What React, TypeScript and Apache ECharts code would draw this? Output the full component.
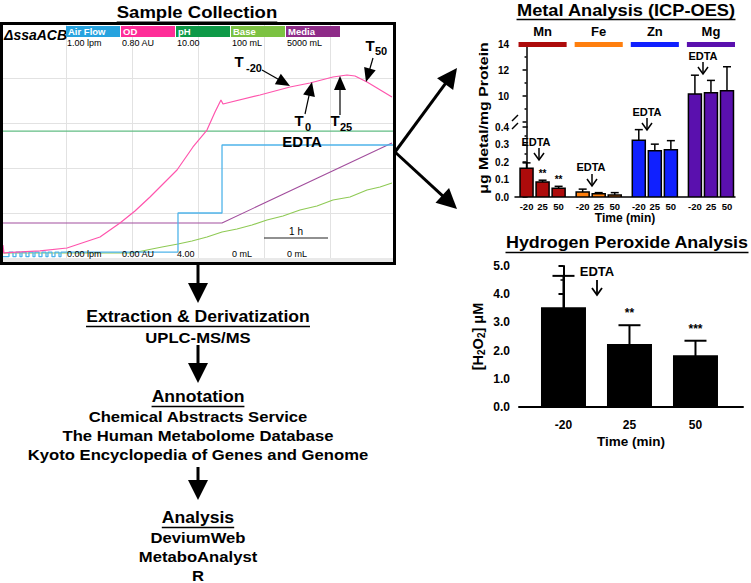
import React, { useEffect, useRef } from 'react';
import * as echarts from 'echarts';

const FONT = '"Liberation Sans", Arial, Helvetica, sans-serif';

// ---------- Sample collection traces: [time (h), grid divisions] ----------
const odTrace = [
  [-0.955, 0.11], [-0.955, 0.29], [-0.94, 0.11], [-0.894, 0.12], [-0.394, 0.16], [0.015, 0.222],
  [0.515, 0.467], [0.818, 0.778], [1.045, 1.044], [1.273, 1.356], [1.5, 1.689], [1.682, 1.956],
  [1.924, 2.467], [2.136, 2.844], [2.258, 3.244], [2.348, 3.511], [2.379, 3.422], [2.939, 3.622],
  [3.394, 3.8], [3.697, 3.889], [4.045, 4.022], [4.258, 4.067], [4.379, 4.044], [4.561, 3.911], [4.939, 3.578],
];
const phTrace = [[-1, 2.82], [4.97, 2.82]];
const airFlowTrace = [
  [-0.955, 0.03], [-0.864, 0.13], [-0.803, 0.03], [-0.758, 0.13], [-0.697, 0.03], [-0.667, 0.13],
  [-0.606, 0.03], [-0.561, 0.13], [-0.5, 0.03], [-0.47, 0.13], [-0.409, 0.03], [-0.364, 0.13],
  [-0.303, 0.03], [-0.273, 0.13], [-0.212, 0.03], [-0.167, 0.13], [-0.106, 0.03], [-0.076, 0.13],
  [1.697, 1.0], [2.364, 2.511], [4.97, 2.511],
];
const mediaTrace = [[-1, 0.778], [2.364, 0.778], [4.939, 2.556]];
const baseTrace = [
  [-1, 0.111], [1.015, 0.111], [1.227, 0.178], [1.455, 0.244], [1.697, 0.311], [1.909, 0.378],
  [2.136, 0.467], [2.364, 0.578], [2.591, 0.644], [2.818, 0.733], [3.045, 0.844], [3.288, 0.933],
  [3.545, 1.067], [3.803, 1.156], [4.045, 1.289], [4.303, 1.356], [4.561, 1.511], [4.758, 1.578], [4.939, 1.667],
];

const channelNames = ['Air Flow', 'OD', 'pH', 'Base', 'Media'];
const channelColors = ['#27a3df', '#ff2d98', '#0e9a48', '#7cc242', '#8e2b88'];
const traceColors = ['#4fb4ea', '#ff55ad', '#62bd84', '#8fca55', '#a24e9d'];
const channelMax = ['1.00 lpm', '0.80 AU', '10.00', '100 mL', '5000 mL'];
const channelMin = ['0.00 lpm', '0.00 AU', '4.00', '0 mL', '0 mL'];

// ---------- Metal analysis (ICP-OES) ----------
const metalNames = ['Mn', 'Fe', 'Zn', 'Mg'];
const metalColors = ['#ad0b0b', '#ff7f0e', '#1020ff', '#5a10ae'];
const timeLabels = ['-20', '25', '50'];
const mnMean = [0.165, 0.086, 0.05];
const mnErr = [0.03, 0.01, 0.011];
const feMean = [0.028, 0.018, 0.012];
const feErr = [0.017, 0.007, 0.013];
const znMean = [0.325, 0.265, 0.27];
const znErr = [0.06, 0.037, 0.052];
const mgMean = [10.15, 10.25, 10.4];
const mgErr = [1.45, 0.95, 1.85];
const mnSig = ['', '**', '**'];
const feSig = ['', '', ''];
const znSig = ['', '', ''];
const mgSig = ['', '', ''];

// ---------- Hydrogen peroxide ----------
const h2o2Mean = [3.5, 2.2, 1.8];
const h2o2Err = [1.15, 0.7, 0.55];
const h2o2Sig = ['', '**', '***'];

const upperMin = 7.615;

export default function App() {
  const ref = useRef<HTMLDivElement>(null);

  useEffect(() => {
    document.body.style.margin = '0';
    const chart = echarts.init(ref.current!, null, { renderer: 'svg' });

    const ctx = document.createElement('canvas').getContext('2d')!;
    const measure = (text: string, size: number) => {
      ctx.font = `bold ${size}px ${FONT}`;
      return ctx.measureText(text).width;
    };

    const groupStart = [0, 3.5, 7, 10.5];
    const means = [mnMean, feMean, znMean, mgMean];
    const errs = [mnErr, feErr, znErr, mgErr];
    const sigs = [mnSig, feSig, znSig, mgSig];
    const metalRows: any[] = [];
    means.forEach((arr, g) =>
      arr.forEach((m, i) =>
        metalRows.push({ x: groupStart[g] + i, mean: m, err: errs[g][i], sig: sigs[g][i], color: metalColors[g], label: timeLabels[i] })
      )
    );
    const upperRows = metalRows.filter((r) => r.mean + r.err > upperMin);
    const h2o2Rows = h2o2Mean.map((m, i) => ({ x: i, mean: m, err: h2o2Err[i], sig: h2o2Sig[i], color: '#000', label: timeLabels[i] }));

    const barRender = (rows: any[], barW: number, capHalf: number, lw: number, starSize: number, starGap: number) =>
      (params: any, api: any) => {
        const r = rows[params.dataIndex];
        const base = api.coord([r.x, 0]);
        const top = api.coord([r.x, r.mean]);
        const et = api.coord([r.x, r.mean + r.err]);
        const children: any[] = [
          { type: 'rect', shape: { x: top[0] - barW / 2, y: top[1], width: barW, height: base[1] - top[1] }, style: { fill: r.color, stroke: '#000', lineWidth: lw } },
          { type: 'line', shape: { x1: top[0], y1: top[1], x2: top[0], y2: et[1] }, style: { stroke: '#000', lineWidth: lw } },
          { type: 'line', shape: { x1: top[0] - capHalf, y1: et[1], x2: top[0] + capHalf, y2: et[1] }, style: { stroke: '#000', lineWidth: lw } },
        ];
        if (r.sig) {
          children.push({
            type: 'text', x: top[0], y: et[1] - starGap,
            style: { text: r.sig, fontFamily: FONT, fontWeight: 'bold', fontSize: starSize, fill: '#000', textAlign: 'center', textVerticalAlign: 'middle', align: 'center', verticalAlign: 'middle' },
          });
        }
        return { type: 'group', children };
      };

    const metalLabelAt = (v: number) => {
      const r = metalRows.find((row) => Math.abs(row.x - v) < 0.01);
      return r ? r.label : '';
    };
    const h2o2LabelAt = (v: number) => {
      const r = h2o2Rows.find((row) => Math.abs(row.x - v) < 0.01);
      return r ? r.label : '';
    };

    const blk = { color: '#000', width: 1.5 };
    const axisFont = { fontFamily: FONT, fontWeight: 'bold' as const, color: '#000' };
    const gridGray = '#e2e2e2';
    const clear = 'rgba(0,0,0,0)';

    const sampleSeries = [
      { data: phTrace, color: traceColors[2], width: 1.3 },
      { data: mediaTrace, color: traceColors[4], width: 1.1 },
      { data: baseTrace, color: traceColors[3], width: 1.1 },
      { data: airFlowTrace, color: traceColors[0], width: 1.3, step: 'end' },
      { data: odTrace, color: traceColors[1], width: 1.2 },
    ].map((s: any) => ({
      type: 'line', xAxisIndex: 0, yAxisIndex: 0, data: s.data, step: s.step || false, symbol: 'none', showSymbol: false,
      lineStyle: { color: s.color, width: s.width }, itemStyle: { color: s.color }, silent: true, clip: true,
    }));

    chart.setOption({
      animation: false,
      grid: [
        { left: 0, top: 23, width: 394, height: 235 },
        { left: 515, right: 16, top: 127, bottom: 583 - 197 },
        { left: 515, right: 16, top: 44, bottom: 583 - 127 },
        { left: 519, right: 8, top: 266, bottom: 583 - 407 },
        { left: 515, right: 16, top: 44, bottom: 583 - 122 },
      ],
      xAxis: [
        { type: 'value', gridIndex: 0, min: -1, max: 4.97, interval: 1, axisLine: { show: false }, axisTick: { show: false }, axisLabel: { show: false }, splitLine: { show: true, lineStyle: { color: gridGray, width: 1 } } },
        {
          type: 'value', gridIndex: 1, min: -0.72, max: 13, axisLine: { lineStyle: blk }, axisTick: { show: false }, splitLine: { show: false },
          axisLabel: { customValues: metalRows.map((r) => r.x), formatter: metalLabelAt, fontSize: 9.5, margin: 4, interval: 0, ...axisFont },
          name: 'Time (min)', nameLocation: 'middle', nameGap: 15, nameTextStyle: { fontSize: 12, ...axisFont, verticalAlign: 'top' },
        },
        { type: 'value', gridIndex: 2, min: -0.72, max: 13, show: false },
        {
          type: 'value', gridIndex: 3, min: -0.674, max: 2.72, axisLine: { lineStyle: { color: '#000', width: 2 } }, axisTick: { show: false }, splitLine: { show: false },
          axisLabel: { customValues: h2o2Rows.map((r) => r.x), formatter: h2o2LabelAt, fontSize: 12, margin: 12, interval: 0, ...axisFont },
          name: 'Time (min)', nameLocation: 'middle', nameGap: 27, nameTextStyle: { fontSize: 13.5, ...axisFont, verticalAlign: 'top' },
        },
        { type: 'value', gridIndex: 4, min: -0.72, max: 13, show: false },
      ],
      yAxis: [
        { type: 'value', gridIndex: 0, min: 0, max: 5.222, interval: 1, axisLine: { show: false }, axisTick: { show: false }, axisLabel: { show: false },
          splitLine: { show: true, lineStyle: { color: [gridGray, gridGray, gridGray, gridGray, gridGray, clear, clear], width: 1 } } },
        {
          type: 'value', gridIndex: 1, position: 'left', min: 0, max: 0.4, interval: 0.1, axisLine: { show: true, lineStyle: blk },
          axisTick: { show: true, length: 4, lineStyle: blk }, minorTick: { show: true, splitNumber: 2, length: 2, lineStyle: blk },
          splitLine: { show: false }, axisLabel: { formatter: (v: number) => v.toFixed(1), fontSize: 10, margin: 6, ...axisFont },
        },
        {
          type: 'value', gridIndex: 2, position: 'left', min: upperMin, max: 14, axisLine: { show: true, lineStyle: blk },
          axisTick: { show: false }, axisLabel: { show: false }, splitLine: { show: false },
        },
        {
          type: 'value', gridIndex: 3, position: 'left', min: 0, max: 5, interval: 1, axisLine: { show: true, lineStyle: { color: '#000', width: 2 } },
          axisTick: { show: true, length: 5, lineStyle: { color: '#000', width: 2 } }, minorTick: { show: true, splitNumber: 2, length: 3, lineStyle: { color: '#000', width: 1.5 } },
          splitLine: { show: false }, axisLabel: { formatter: (v: number) => v.toFixed(1), fontSize: 12, margin: 9, ...axisFont },
          name: '[H{s|2}O{s|2}] μM', nameLocation: 'middle', nameGap: 33,
          nameTextStyle: { fontFamily: FONT, fontWeight: 'bold', fontSize: 14.5, color: '#000', lineHeight: 17,
            rich: { s: { fontFamily: FONT, fontWeight: 'bold', fontSize: 10, color: '#000', lineHeight: 8, verticalAlign: 'bottom' } } },
        },
        {
          type: 'value', gridIndex: 4, position: 'left', min: 8, max: 14, interval: 2, axisLine: { show: false },
          axisTick: { show: true, length: 4, lineStyle: blk }, minorTick: { show: true, splitNumber: 2, length: 2, lineStyle: blk },
          splitLine: { show: false }, axisLabel: { formatter: (v: number) => (v >= 10 ? String(v) : ''), fontSize: 10, margin: 6, ...axisFont },
        },
      ],
      series: [
        ...sampleSeries,
        { type: 'custom', xAxisIndex: 1, yAxisIndex: 1, clip: true, encode: { x: 0, y: 1 }, data: metalRows.map((r) => [r.x, r.mean]), renderItem: barRender(metalRows, 13, 4, 1.5, 10, 7) },
        { type: 'custom', xAxisIndex: 2, yAxisIndex: 2, clip: true, encode: { x: 0, y: 1 }, data: upperRows.map((r) => [r.x, r.mean]), renderItem: barRender(upperRows, 13, 4, 1.5, 10, 7) },
        { type: 'custom', xAxisIndex: 3, yAxisIndex: 3, clip: true, encode: { x: 0, y: 1 }, data: h2o2Rows.map((r) => [r.x, r.mean]), renderItem: barRender(h2o2Rows, 43, 11, 2, 12, 12) },
      ],
    });

    // ---------- graphics ----------
    const G: any[] = [];
    const text = (x: number, y: number, t: string, o: any = {}) => {
      const align = o.align || 'center';
      const va = o.va || 'middle';
      G.push({
        type: 'text', x, y, z: 100, silent: true, rotation: o.rotation || 0, scaleX: o.sx || 1,
        style: { text: t, fontFamily: FONT, fontSize: o.size || 12, fontWeight: o.weight || 'bold', fontStyle: o.italic ? 'italic' : 'normal', fill: o.fill || '#000', textAlign: align, align, textVerticalAlign: va, verticalAlign: va },
      });
    };
    const line = (x1: number, y1: number, x2: number, y2: number, lw = 1.5, color = '#000') =>
      G.push({ type: 'line', z: 100, silent: true, shape: { x1, y1, x2, y2 }, style: { stroke: color, lineWidth: lw } });
    const arrow = (x1: number, y1: number, x2: number, y2: number, hl: number, hw: number, lw: number) => {
      const L = Math.hypot(x2 - x1, y2 - y1);
      const ux = (x2 - x1) / L, uy = (y2 - y1) / L;
      const bx = x2 - ux * hl, by = y2 - uy * hl;
      line(x1, y1, bx + ux * 2, by + uy * 2, lw);
      G.push({ type: 'polygon', z: 100, silent: true, shape: { points: [[x2, y2], [bx - uy * hw, by + ux * hw], [bx + uy * hw, by - ux * hw]] }, style: { fill: '#000' } });
    };
    const openArrow = (x: number, y1: number, y2: number, lw = 1.5) => {
      line(x, y1, x, y2, lw);
      G.push({ type: 'polyline', z: 100, silent: true, shape: { points: [[x - 5, y2 - 7], [x, y2], [x + 5, y2 - 7]] }, style: { stroke: '#000', lineWidth: lw, fill: null } });
    };
    const title = (x: number, y: number, t: string, size: number, sx: number) => {
      text(x, y, t, { size, sx });
      const w = measure(t, size) * sx;
      line(x - w / 2, y + size * 0.6, x + w / 2, y + size * 0.6, 1.5);
    };

    // Sample collection panel
    title(197, 12, 'Sample Collection', 17, 1.09);
    G.push({ type: 'rect', z: 99, silent: true, shape: { x: 3, y: 258, width: 390, height: 4 }, style: { fill: '#e9e9e9' } });
    G.push({ type: 'rect', z: 100, silent: true, shape: { x: 1.5, y: 23.5, width: 393, height: 240 }, style: { fill: null, stroke: '#000', lineWidth: 3 } });
    text(4, 35, 'ΔssaACB', { size: 14, italic: true, align: 'left' });
    channelNames.forEach((n, i) => {
      const x0 = 66 + i * 55;
      G.push({ type: 'rect', z: 100, silent: true, shape: { x: x0, y: 26, width: 54, height: 11 }, style: { fill: channelColors[i] } });
      text(x0 + 2, 31.5, n, { size: 9.5, fill: '#fff', align: 'left' });
      text(x0 + 1, 43, channelMax[i], { size: 9, weight: 'normal', align: 'left' });
      text(x0 + 1, 254, channelMin[i], { size: 9, weight: 'normal', align: 'left' });
    });
    line(264, 238, 328, 238, 1.2, '#222');
    text(296, 231, '1 h', { size: 10, weight: 'normal' });
    text(302, 141, 'EDTA', { size: 15 });
    text(239, 61, 'T', { size: 15 });
    text(246, 68, '-20', { size: 11, align: 'left' });
    text(299, 120, 'T', { size: 15 });
    text(305, 127, '0', { size: 11, align: 'left' });
    text(335, 120, 'T', { size: 15 });
    text(340, 127, '25', { size: 11, align: 'left' });
    text(370, 45, 'T', { size: 15 });
    text(375, 51, '50', { size: 11, align: 'left' });
    arrow(262, 70, 290, 86, 14, 6, 1.2);
    arrow(305, 114, 312, 82, 14, 6, 1.2);
    arrow(340, 115, 340, 76, 14, 6, 1.2);
    arrow(373, 58, 366, 82, 14, 6, 1.2);

    // Flow arrows
    arrow(395, 152, 457, 68, 20, 10, 3);
    arrow(395, 152, 457, 209, 20, 10, 3);
    arrow(198, 264, 198, 303, 20, 10, 3);
    arrow(198, 345, 198, 383, 20, 10, 3);
    arrow(198, 467, 198, 500, 20, 10, 3);

    // Workflow text
    const sx = 1.19;
    title(198, 317, 'Extraction & Derivatization', 16, 1.1);
    text(198, 338, 'UPLC-MS/MS', { size: 14, sx });
    title(198, 397, 'Annotation', 16, 1.1);
    text(198, 417, 'Chemical Abstracts Service', { size: 14, sx });
    text(198, 436, 'The Human Metabolome Database', { size: 14, sx });
    text(198, 455, 'Kyoto Encyclopedia of Genes and Genome', { size: 14, sx });
    title(198, 518, 'Analysis', 16, 1.1);
    text(198, 538, 'DeviumWeb', { size: 14, sx });
    text(198, 557, 'MetaboAnalyst', { size: 14, sx });
    text(198, 576, 'R', { size: 14, sx });

    // Metal analysis
    title(626, 10, 'Metal Analysis (ICP-OES)', 16, 1.14);
    metalNames.forEach((n, g) => {
      const a = chart.convertToPixel({ xAxisIndex: 2 }, groupStart[g] - 0.5) as number;
      const b = chart.convertToPixel({ xAxisIndex: 2 }, groupStart[g] + 2.5) as number;
      G.push({ type: 'rect', z: 100, silent: true, shape: { x: a, y: 42, width: b - a, height: 5 }, style: { fill: metalColors[g] } });
      text((a + b) / 2, 31, n, { size: 13 });
    });
    text(484, 118, 'μg Metal/mg Protein', { size: 13, sx: 1.22, rotation: Math.PI / 2 });
    G.push({ type: 'rect', z: 100, silent: true, shape: { x: 508, y: 118.5, width: 10.5, height: 6.5 }, style: { fill: '#fff' } });
    line(512, 121, 518, 115, 1.5);
    line(512, 129, 518, 123, 1.5);
    text(536, 142, 'EDTA', { size: 11 });
    openArrow(539, 148, 160);
    text(591, 167, 'EDTA', { size: 11 });
    openArrow(592, 174, 186);
    text(647, 112, 'EDTA', { size: 11 });
    openArrow(647, 118, 130);
    text(703, 56, 'EDTA', { size: 11 });
    openArrow(703, 62, 74);

    // Hydrogen peroxide
    title(627, 243, 'Hydrogen Peroxide Analysis', 16, 1.12);
    text(597, 271, 'EDTA', { size: 13 });
    openArrow(597, 280, 295, 1.8);

    chart.setOption({ graphic: { elements: G } });

    return () => chart.dispose();
  }, []);

  return <div ref={ref} style={{ position: 'fixed', left: 0, top: 0, width: 751, height: 583, background: '#fff' }} />;
}
